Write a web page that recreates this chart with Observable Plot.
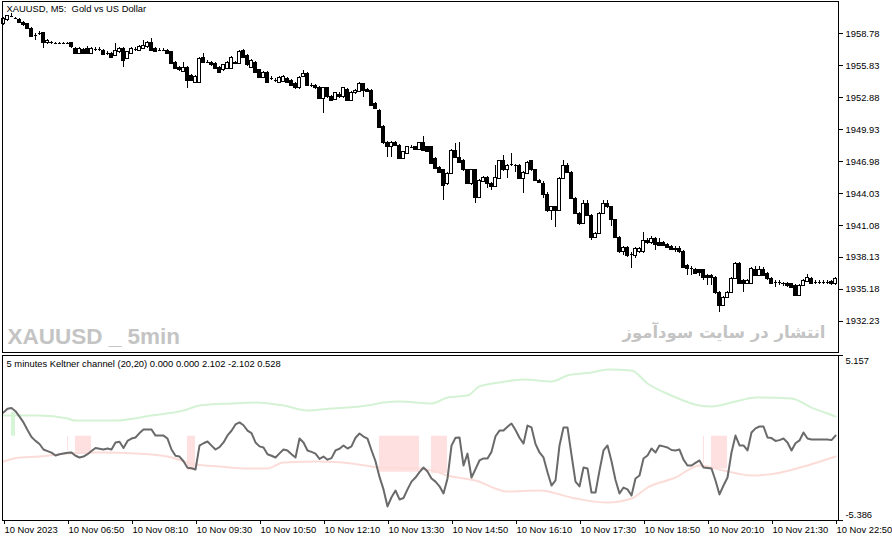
<!DOCTYPE html>
<html><head><meta charset="utf-8">
<script src="https://cdn.jsdelivr.net/npm/d3@7"></script>
<script src="https://cdn.jsdelivr.net/npm/@observablehq/plot@0.6"></script>
<style>
html,body{margin:0;padding:0;background:#fff;overflow:hidden;width:892px;height:541px;}
#wrap{position:relative;width:892px;height:541px;overflow:hidden;background:#fff;}
#wrap svg{position:absolute;left:0;overflow:hidden;}
#wrap svg rect, #wrap svg line{shape-rendering:crispEdges;}
</style></head><body><div id="wrap"></div>
<script>
// ---- price candles (XAUUSD M5, 10 Nov 2023 05:30 .. 22:50) ----
const open = [1959.61,1959.98,1960.35,1960.16,1960.07,1959.79,1959.61,1959.24,1958.59,1958.78,
1958.78,1957.86,1957.95,1957.86,1957.86,1957.86,1957.86,1957.86,1957.39,1956.93,
1957.30,1957.39,1956.93,1957.30,1957.30,1957.21,1956.93,1956.93,1956.75,1957.03,
1957.39,1956.47,1956.93,1957.30,1957.21,1957.39,1957.49,1957.95,1957.39,1957.21,
1957.21,1957.21,1957.03,1956.10,1955.64,1955.27,1955.64,1954.90,1954.26,1954.26,
1956.56,1956.10,1956.10,1956.01,1955.64,1955.37,1955.55,1955.55,1956.10,1956.01,
1957.21,1956.75,1955.64,1956.10,1955.37,1954.72,1955.18,1954.63,1954.44,1954.26,
1954.35,1954.63,1954.44,1954.17,1953.71,1954.81,1955.09,1953.98,1953.98,1953.80,
1952.78,1953.71,1952.97,1952.69,1953.15,1952.88,1953.61,1952.60,1953.25,1953.43,
1954.08,1953.61,1953.52,1952.32,1951.68,1950.20,1948.73,1948.27,1948.73,1948.45,
1947.25,1947.71,1948.27,1948.27,1948.08,1948.64,1948.27,1948.27,1947.25,1946.42,
1946.15,1944.86,1945.87,1947.99,1947.34,1947.07,1946.15,1944.86,1946.15,1943.66,
1945.13,1945.50,1944.95,1944.67,1945.41,1947.07,1946.15,1946.70,1946.61,1946.61,
1945.41,1945.87,1946.98,1946.15,1945.22,1944.95,1943.93,1942.37,1942.74,1942.46,
1945.41,1946.61,1945.96,1943.56,1942.18,1941.26,1943.10,1942.00,1939.97,1940.34,
1942.18,1943.10,1942.74,1941.54,1939.97,1938.59,1939.05,1938.40,1938.31,1938.59,
1938.59,1939.69,1939.42,1939.88,1939.42,1939.42,1939.32,1939.14,1938.95,1938.95,
1938.68,1937.39,1937.11,1937.02,1936.93,1936.93,1936.46,1936.46,1936.28,1934.90,
1933.70,1934.44,1934.90,1936.19,1937.57,1936.00,1935.73,1935.73,1937.02,1936.46,
1937.02,1936.65,1936.19,1935.82,1935.82,1935.73,1935.73,1935.64,1935.54,1934.62,
1935.54,1935.91,1936.19,1935.82,1935.82,1935.82,1935.82,1935.91,1935.64];
const close = [1960.16,1960.35,1960.35,1960.16,1959.79,1959.52,1959.24,1958.50,1958.59,1958.78,
1957.86,1958.13,1957.86,1957.86,1957.86,1957.86,1957.86,1957.49,1956.93,1957.39,
1956.93,1956.93,1957.39,1957.30,1957.30,1956.84,1956.93,1956.56,1957.21,1957.39,
1956.29,1957.03,1957.39,1957.30,1957.49,1957.67,1957.95,1957.21,1957.12,1957.21,
1957.21,1956.93,1956.01,1955.55,1955.37,1955.64,1954.44,1954.44,1954.81,1956.47,
1956.10,1956.10,1955.83,1955.55,1955.18,1955.83,1956.10,1956.56,1956.01,1957.03,
1956.56,1955.83,1956.29,1955.18,1954.72,1955.18,1954.26,1954.63,1954.44,1954.72,
1954.81,1954.26,1953.98,1953.71,1954.72,1955.09,1953.98,1953.98,1953.71,1952.78,
1953.71,1952.88,1952.60,1953.25,1952.88,1953.71,1952.60,1953.34,1953.52,1954.17,
1953.52,1953.43,1952.14,1951.86,1950.11,1948.64,1948.27,1948.73,1948.45,1947.25,
1947.81,1948.27,1948.27,1948.08,1948.64,1947.99,1947.90,1946.79,1946.33,1945.96,
1944.76,1945.87,1947.99,1947.34,1946.88,1946.15,1944.95,1946.15,1943.66,1945.22,
1945.50,1944.86,1944.67,1945.50,1946.98,1946.15,1946.61,1946.70,1946.61,1945.41,
1945.96,1946.88,1946.15,1945.22,1945.04,1943.93,1942.37,1942.74,1942.46,1945.41,
1946.61,1945.96,1943.56,1942.18,1941.26,1943.10,1942.00,1939.97,1940.34,1942.18,
1943.10,1942.74,1941.54,1939.97,1938.59,1939.05,1938.31,1938.40,1938.95,1938.95,
1939.69,1939.42,1939.88,1939.32,1939.23,1939.23,1939.05,1938.86,1938.86,1938.59,
1937.20,1937.11,1937.11,1936.65,1936.74,1936.28,1936.28,1936.28,1934.81,1933.70,
1934.44,1934.90,1936.19,1937.57,1935.73,1935.73,1936.00,1937.11,1936.46,1937.02,
1936.46,1936.19,1935.73,1935.82,1935.82,1935.64,1935.54,1935.36,1934.62,1935.54,
1936.00,1936.28,1935.73,1935.82,1935.82,1935.82,1935.82,1935.64,1936.19];
const high = [1960.25,1960.44,1960.62,1960.25,1960.16,1959.88,1959.70,1959.33,1958.78,1958.96,
1958.87,1958.22,1958.04,1957.95,1957.95,1957.95,1957.95,1957.95,1957.49,1957.49,
1957.39,1957.58,1957.49,1957.49,1957.49,1957.30,1957.12,1957.03,1957.86,1957.49,
1957.49,1957.12,1957.49,1957.49,1957.67,1958.13,1958.04,1958.32,1957.49,1957.39,
1957.39,1957.30,1957.12,1956.20,1955.73,1956.10,1955.73,1955.00,1954.90,1956.56,
1956.93,1956.29,1956.20,1956.10,1955.73,1955.92,1956.20,1956.66,1956.20,1957.21,
1957.30,1956.84,1956.38,1956.20,1955.46,1955.27,1955.27,1954.81,1954.63,1954.81,
1954.90,1954.72,1954.54,1954.26,1954.81,1955.37,1955.18,1954.17,1954.08,1953.89,
1953.80,1953.80,1953.06,1953.34,1953.34,1953.80,1953.71,1953.43,1953.61,1954.26,
1954.17,1953.71,1953.61,1952.42,1951.77,1950.30,1948.82,1948.82,1948.82,1948.54,
1947.90,1948.36,1948.45,1948.36,1948.73,1949.28,1948.36,1948.36,1947.34,1946.51,
1946.24,1945.96,1948.08,1948.64,1948.73,1947.16,1946.24,1946.24,1946.24,1945.32,
1945.59,1945.59,1945.04,1946.61,1947.07,1947.53,1946.70,1947.71,1946.70,1946.70,
1946.05,1946.98,1947.07,1946.24,1945.32,1945.13,1944.12,1942.83,1942.83,1945.50,
1947.07,1946.79,1946.05,1943.66,1942.27,1943.38,1943.38,1942.09,1940.43,1942.27,
1943.38,1943.38,1942.83,1941.63,1940.06,1939.14,1939.14,1938.59,1939.05,1939.05,
1940.43,1939.88,1940.06,1939.97,1939.88,1939.60,1939.42,1939.23,1939.14,1939.14,
1938.77,1937.48,1937.29,1937.11,1937.02,1937.02,1936.56,1936.56,1936.37,1934.99,
1934.53,1934.99,1936.28,1937.66,1937.66,1936.10,1936.10,1937.20,1937.29,1937.29,
1937.20,1936.74,1936.28,1936.00,1936.00,1935.82,1935.82,1935.73,1935.64,1935.64,
1936.10,1936.56,1936.28,1936.00,1936.00,1936.00,1936.00,1936.00,1936.28];
const low = [1959.52,1959.88,1960.25,1960.07,1959.70,1959.42,1959.15,1958.41,1958.13,1958.59,
1957.39,1957.76,1957.76,1957.76,1957.76,1957.76,1957.76,1957.39,1956.84,1956.84,
1956.84,1956.84,1956.84,1957.12,1957.12,1956.75,1956.75,1956.47,1956.66,1956.93,
1955.64,1956.38,1956.84,1957.12,1957.12,1957.30,1957.39,1957.12,1957.03,1957.12,
1957.12,1956.84,1955.92,1955.46,1955.27,1955.18,1953.71,1954.35,1954.17,1954.17,
1956.01,1956.01,1955.73,1955.46,1955.09,1955.27,1955.46,1955.46,1955.92,1955.92,
1956.47,1955.73,1955.55,1955.09,1954.63,1954.63,1954.17,1954.44,1954.26,1954.17,
1954.26,1954.17,1953.89,1953.61,1953.61,1954.72,1953.89,1953.80,1953.61,1952.69,
1951.40,1952.78,1952.51,1952.60,1952.78,1952.78,1952.51,1952.51,1953.15,1953.34,
1952.88,1953.34,1952.05,1951.77,1950.02,1948.54,1947.34,1947.34,1948.36,1947.16,
1947.16,1947.62,1948.17,1947.99,1947.99,1947.90,1947.81,1946.70,1946.24,1945.87,
1943.38,1944.76,1945.78,1947.25,1946.79,1946.05,1944.86,1944.76,1943.10,1943.56,
1945.04,1944.49,1944.30,1944.58,1945.32,1946.05,1945.41,1946.51,1945.96,1945.32,
1944.03,1945.78,1946.05,1945.13,1944.95,1943.56,1942.27,1941.54,1940.89,1942.37,
1945.32,1945.87,1943.47,1942.09,1941.08,1941.17,1941.90,1939.69,1939.88,1940.25,
1942.09,1942.64,1940.98,1939.88,1938.49,1938.31,1938.12,1937.11,1938.03,1938.49,
1938.49,1939.32,1939.32,1938.77,1939.14,1939.14,1938.95,1938.77,1938.59,1938.49,
1937.11,1936.46,1936.46,1936.56,1936.37,1936.00,1935.54,1935.54,1934.71,1933.05,
1933.61,1934.34,1934.81,1936.10,1935.64,1934.90,1935.64,1935.64,1936.37,1936.37,
1936.37,1936.00,1935.64,1935.36,1935.54,1935.45,1935.36,1935.27,1934.53,1934.53,
1935.45,1935.82,1935.64,1935.64,1935.64,1935.64,1935.64,1935.54,1935.54];

// ---- Keltner channel oscillator ----
const osc = [1.51,1.75,1.80,1.60,1.25,0.88,0.40,-0.05,-0.30,-0.50,
-0.85,-0.95,-1.05,-1.23,-1.15,-1.10,-1.06,-1.04,-1.25,-1.36,
-1.30,-1.15,-0.95,-0.75,-0.80,-0.85,-0.79,-0.85,-0.40,-0.35,
-0.75,-0.30,-0.15,-0.08,0.20,0.43,0.43,0.43,0.04,0.04,
0.04,-0.15,-0.85,-1.25,-1.30,-1.60,-2.02,-2.05,-2.13,-0.60,
-0.45,-0.34,-0.60,-0.85,-0.70,-0.40,0.05,0.35,0.75,0.88,
0.70,0.36,0.20,-0.40,-0.65,-0.72,-1.15,-1.25,-1.36,-1.10,
-0.85,-0.91,-1.15,-1.36,-0.15,-0.40,-0.91,-1.00,-1.11,-1.45,
-1.30,-1.50,-1.40,-0.91,-0.80,-0.59,-0.79,-0.65,-0.10,0.17,
-0.02,-0.15,-0.90,-1.60,-2.60,-3.40,-4.49,-3.90,-3.47,-4.04,
-3.95,-3.40,-2.90,-2.64,-2.30,-2.00,-2.25,-2.70,-2.90,-3.20,
-3.66,-2.70,-0.60,-0.10,-0.08,-1.87,-1.11,-2.64,-2.10,-1.55,
-1.42,-1.42,-1.00,0.00,0.36,0.36,0.60,0.81,0.40,-0.10,
-0.47,0.68,0.56,-0.50,-1.04,-1.36,-2.30,-3.15,-2.83,-0.59,
0.56,0.56,-1.20,-2.90,-3.21,-2.00,-2.06,-3.60,-3.60,-2.20,
-0.91,-0.59,-1.60,-2.80,-3.66,-3.28,-3.40,-3.79,-2.70,-2.51,
-1.42,-1.23,-0.79,-1.04,-0.59,-0.65,-0.72,-0.88,-0.91,-0.85,
-1.50,-1.87,-1.87,-1.70,-1.55,-2.00,-2.03,-2.06,-2.83,-3.72,
-3.15,-2.64,-1.04,0.04,-0.59,-0.59,-0.91,0.24,0.50,0.62,
0.62,-0.08,-0.12,-0.30,-0.25,-0.15,-0.40,-0.91,-0.45,-0.27,
0.24,-0.15,-0.21,-0.21,-0.21,-0.21,-0.21,-0.25,0.04];
const upperIdx = [0,4,9,16,18,28,37,45,49,57,63,70,76,82,91,95,99,107,111,116,119,124,130,137,141,147,151,157,161,167,174,177,184,188,197,202,206,208];
const upperVal = [1.32,1.32,1.32,1.13,1.00,1.00,1.32,1.64,1.96,2.09,2.15,1.96,1.64,1.77,1.96,2.15,2.22,2.09,2.47,2.60,3.18,3.43,3.62,3.50,3.88,4.07,4.26,4.20,3.37,2.60,1.96,1.90,2.28,2.47,2.41,1.83,1.45,1.26];
const lowerIdx = [0,4,9,16,24,33,41,48,54,60,66,70,79,87,94,104,108,111,118,126,134,143,151,157,161,168,174,180,187,193,201,208];
const lowerVal = [-1.62,-1.36,-1.30,-1.11,-1.04,-1.11,-1.30,-1.81,-1.94,-2.06,-2.06,-1.68,-1.62,-1.74,-2.00,-2.06,-2.26,-2.51,-2.83,-3.53,-3.47,-3.98,-4.24,-3.98,-3.28,-2.64,-1.87,-2.19,-2.51,-2.38,-1.87,-1.30];
// breakout fills: first bar, last bar, level
const fillStart = [2,16,18,46,94,107,175,177];
const fillEnd   = [3,16,22,48,104,111,175,181];
const fillVal   = [1.53,-0.91,-1.02,-2.19,-2.30,-2.38,-1.77,-2.09];

// ---- axes ----
const priceTicks = [1958.78,1955.83,1952.88,1949.93,1946.98,1944.03,1941.08,1938.13,1935.18,1932.23];
const oscTicks = [5.157,-5.386];
const timeTickIdx = [0,16,32,48,64,80,96,112,128,144,160,176,192,208];
const timeTickLabels = ["10 Nov 2023","10 Nov 06:50","10 Nov 08:10","10 Nov 09:30","10 Nov 10:50","10 Nov 12:10","10 Nov 13:30","10 Nov 14:50","10 Nov 16:10","10 Nov 17:30","10 Nov 18:50","10 Nov 20:10","10 Nov 21:30","10 Nov 22:50"];

const candles = open.map((o,i)=>({i,o,c:close[i],h:high[i],l:low[i]}));
const bulls = candles.filter(d=>d.c>d.o), bears = candles.filter(d=>d.c<d.o), dojis = candles.filter(d=>d.c===d.o);
const oscPts = osc.map((v,i)=>({i,v}));
const upper = upperIdx.map((i,k)=>({i,v:upperVal[k]}));
const lower = lowerIdx.map((i,k)=>({i,v:lowerVal[k]}));
const fillPts = [], thinPts = [];
fillStart.forEach((s,k)=>{
  if (s===fillEnd[k]) thinPts.push({i:s,v:fillVal[k]});
  else for (let i=s;i<=fillEnd[k];i++) fillPts.push({seg:k,i,v:fillVal[k]});
});

const style = {background:"white",color:"black",fontFamily:"'Liberation Sans', Arial, sans-serif",fontSize:"9.4px",overflow:"hidden"};
const X = {domain:[-0.25,208.75], axis:null, label:null};
const GREEN_FILL="#d6f5d6", PINK_FILL="#ffe0e0";

const main = Plot.plot({
  width:892, height:353, marginLeft:2, marginRight:54, marginTop:1, marginBottom:1,
  x:X, y:{domain:[1929.37,1961.73], axis:null, label:null}, style,
  marks:[
    Plot.text(["XAUUSD _ 5min"],{text:d=>d, frameAnchor:"bottom-left", textAnchor:"start", lineAnchor:"bottom", dx:5, dy:-9, fontSize:22.5, fontWeight:"bold", fill:"#c4c4c4", fontFamily:"'Liberation Sans', Arial, sans-serif"}),
    Plot.text(["انتشار در سایت سودآموز"],{text:d=>d, frameAnchor:"bottom-right", textAnchor:"end", lineAnchor:"bottom", dx:-13, dy:-15, fontSize:16.5, fontWeight:"bold", fill:"#c4c4c4", fontFamily:"'DejaVu Sans', sans-serif"}),
    Plot.ruleX(candles,{x:"i", y1:"l", y2:"h", stroke:"black", strokeWidth:1}),
    Plot.rect(bulls,{x1:d=>d.i-0.3, x2:d=>d.i+0.3, y1:"o", y2:"c", fill:"white", stroke:"black", strokeWidth:1}),
    Plot.rect(bears,{x1:d=>d.i-0.3, x2:d=>d.i+0.3, y1:"o", y2:"c", fill:"black", stroke:"black", strokeWidth:1}),
    Plot.ruleY(dojis,{y:"c", x1:d=>d.i-0.375, x2:d=>d.i+0.375, stroke:"black", strokeWidth:1}),
    Plot.frame({stroke:"black"}),
    Plot.axisY({anchor:"right", ticks:priceTicks, tickSize:4, tickPadding:3, label:null, tickFormat:d=>d.toFixed(2)}),
    Plot.text(["XAUUSD, M5:  Gold vs US Dollar"],{text:d=>d, frameAnchor:"top-left", textAnchor:"start", lineAnchor:"top", dx:4, dy:4, fill:"black"})
  ]
});

const ind = Plot.plot({
  width:892, height:188, marginLeft:2, marginRight:54, marginTop:2, marginBottom:21,
  x:X, y:{domain:[-5.386,5.157], axis:null, label:null}, style,
  marks:[
    Plot.areaY(fillPts,{x:"i", y1:0, y2:"v", z:"seg", fill:d=>d.v>0?GREEN_FILL:PINK_FILL, curve:"linear"}),
    Plot.ruleX(thinPts,{x:"i", y1:0, y2:"v", stroke:PINK_FILL, strokeWidth:1}),
    Plot.line(upper,{x:"i", y:"v", stroke:"#d4f2d4", strokeWidth:2, curve:"monotone-x"}),
    Plot.line(lower,{x:"i", y:"v", stroke:"#fcdcd8", strokeWidth:2, curve:"monotone-x"}),
    Plot.line(oscPts,{x:"i", y:"v", stroke:"#6a6a6a", strokeWidth:2}),
    Plot.frame({stroke:"black"}),
    Plot.axisY({anchor:"right", ticks:oscTicks, tickSize:4, label:null, tickFormat:()=>""}),
    Plot.text([oscTicks[0]],{y:d=>d, text:d=>d.toFixed(3), frameAnchor:"right", textAnchor:"start", dx:7, dy:5, fill:"black"}),
    Plot.text([oscTicks[1]],{y:d=>d, text:d=>d.toFixed(3), frameAnchor:"right", textAnchor:"start", dx:7, dy:-6, fill:"black"}),
    Plot.axisX({anchor:"bottom", ticks:timeTickIdx, tickSize:4, tickPadding:2, textAnchor:"start", dx:1, label:null, tickFormat:d=>timeTickLabels[timeTickIdx.indexOf(d)]}),
    Plot.text(["5 minutes Keltner channel (20,20) 0.000 0.000 2.102 -2.102 0.528"],{text:d=>d, frameAnchor:"top-left", textAnchor:"start", lineAnchor:"top", dx:4, dy:5, fill:"black"})
  ]
});

const wrap = document.getElementById("wrap");
main.style.top = "0px";
ind.style.top = "353px";
wrap.appendChild(main);
wrap.appendChild(ind);
</script></body></html>
